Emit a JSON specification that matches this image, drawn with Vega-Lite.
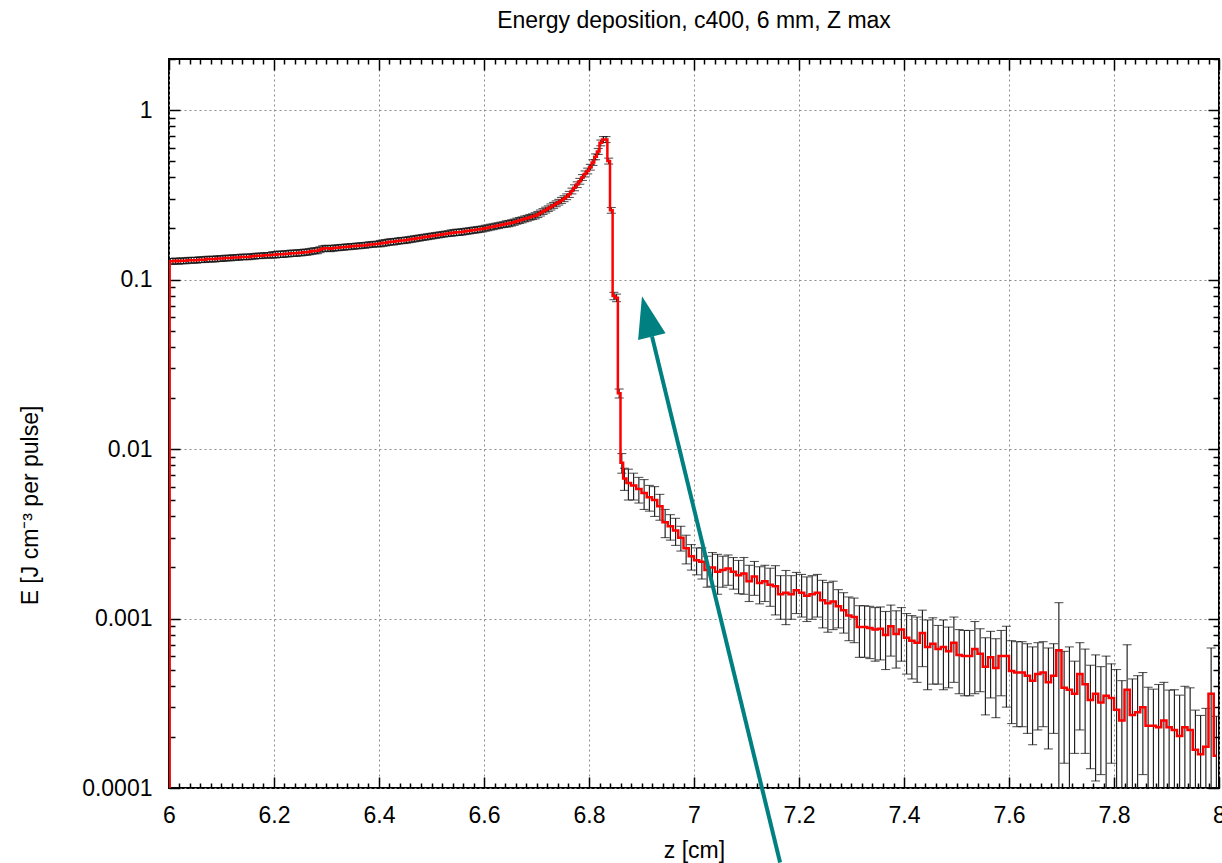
{
  "$schema": "https://vega.github.io/schema/vega-lite/v6.json",
  "width": 1050,
  "height": 729,
  "autosize": "none",
  "padding": {"left": 169, "top": 59, "right": 3, "bottom": 75},
  "background": "white",
  "title": {"text": "Energy deposition, c400, 6 mm, Z max", "font": "Liberation Sans", "fontSize": 23, "fontWeight": "normal", "color": "black", "anchor": "middle", "frame": "group", "baseline": "alphabetic", "offset": 11, "dy": 14},
  "config": {"view": {"stroke": "black", "strokeWidth": 2}},
  "datasets": {
    "hist": [
      {"z":6.0,"v":0.00001,"e":0},
      {"z":6.0025,"v":0.128,"e":0.005},{"z":6.0075,"v":0.128,"e":0.005},{"z":6.0125,"v":0.129,"e":0.005},{"z":6.0175,"v":0.128,"e":0.005},{"z":6.0225,"v":0.129,"e":0.005},{"z":6.0275,"v":0.129,"e":0.005},{"z":6.0325,"v":0.129,"e":0.005},{"z":6.0375,"v":0.130,"e":0.005},{"z":6.0425,"v":0.130,"e":0.005},{"z":6.0475,"v":0.130,"e":0.005},
      {"z":6.0525,"v":0.130,"e":0.005},{"z":6.0575,"v":0.131,"e":0.005},{"z":6.0625,"v":0.131,"e":0.005},{"z":6.0675,"v":0.131,"e":0.005},{"z":6.0725,"v":0.132,"e":0.005},{"z":6.0775,"v":0.132,"e":0.005},{"z":6.0825,"v":0.132,"e":0.005},{"z":6.0875,"v":0.132,"e":0.005},{"z":6.0925,"v":0.133,"e":0.005},{"z":6.0975,"v":0.133,"e":0.005},
      {"z":6.1025,"v":0.133,"e":0.005},{"z":6.1075,"v":0.134,"e":0.005},{"z":6.1125,"v":0.134,"e":0.005},{"z":6.1175,"v":0.134,"e":0.005},{"z":6.1225,"v":0.135,"e":0.005},{"z":6.1275,"v":0.135,"e":0.005},{"z":6.1325,"v":0.135,"e":0.005},{"z":6.1375,"v":0.136,"e":0.005},{"z":6.1425,"v":0.136,"e":0.005},{"z":6.1475,"v":0.136,"e":0.005},
      {"z":6.1525,"v":0.136,"e":0.005},{"z":6.1575,"v":0.137,"e":0.005},{"z":6.1625,"v":0.137,"e":0.005},{"z":6.1675,"v":0.138,"e":0.005},{"z":6.1725,"v":0.138,"e":0.005},{"z":6.1775,"v":0.138,"e":0.005},{"z":6.1825,"v":0.139,"e":0.005},{"z":6.1875,"v":0.139,"e":0.005},{"z":6.1925,"v":0.139,"e":0.005},{"z":6.1975,"v":0.140,"e":0.006},
      {"z":6.2025,"v":0.140,"e":0.006},{"z":6.2075,"v":0.141,"e":0.006},{"z":6.2125,"v":0.141,"e":0.006},{"z":6.2175,"v":0.141,"e":0.006},{"z":6.2225,"v":0.142,"e":0.006},{"z":6.2275,"v":0.142,"e":0.006},{"z":6.2325,"v":0.143,"e":0.006},{"z":6.2375,"v":0.143,"e":0.006},{"z":6.2425,"v":0.143,"e":0.006},{"z":6.2475,"v":0.144,"e":0.006},
      {"z":6.2525,"v":0.144,"e":0.006},{"z":6.2575,"v":0.145,"e":0.006},{"z":6.2625,"v":0.145,"e":0.006},{"z":6.2675,"v":0.146,"e":0.006},{"z":6.2725,"v":0.147,"e":0.006},{"z":6.2775,"v":0.148,"e":0.006},{"z":6.2825,"v":0.148,"e":0.006},{"z":6.2875,"v":0.150,"e":0.006},{"z":6.2925,"v":0.152,"e":0.006},{"z":6.2975,"v":0.153,"e":0.006},
      {"z":6.3025,"v":0.153,"e":0.006},{"z":6.3075,"v":0.152,"e":0.006},{"z":6.3125,"v":0.153,"e":0.006},{"z":6.3175,"v":0.154,"e":0.006},{"z":6.3225,"v":0.154,"e":0.006},{"z":6.3275,"v":0.155,"e":0.006},{"z":6.3325,"v":0.155,"e":0.006},{"z":6.3375,"v":0.156,"e":0.006},{"z":6.3425,"v":0.156,"e":0.006},{"z":6.3475,"v":0.157,"e":0.006},
      {"z":6.3525,"v":0.157,"e":0.006},{"z":6.3575,"v":0.158,"e":0.006},{"z":6.3625,"v":0.158,"e":0.006},{"z":6.3675,"v":0.159,"e":0.006},{"z":6.3725,"v":0.159,"e":0.006},{"z":6.3775,"v":0.160,"e":0.006},{"z":6.3825,"v":0.161,"e":0.006},{"z":6.3875,"v":0.161,"e":0.006},{"z":6.3925,"v":0.162,"e":0.006},{"z":6.3975,"v":0.162,"e":0.006},
      {"z":6.4025,"v":0.163,"e":0.007},{"z":6.4075,"v":0.164,"e":0.007},{"z":6.4125,"v":0.165,"e":0.007},{"z":6.4175,"v":0.166,"e":0.007},{"z":6.4225,"v":0.167,"e":0.007},{"z":6.4275,"v":0.167,"e":0.007},{"z":6.4325,"v":0.168,"e":0.007},{"z":6.4375,"v":0.169,"e":0.007},{"z":6.4425,"v":0.170,"e":0.007},{"z":6.4475,"v":0.170,"e":0.007},
      {"z":6.4525,"v":0.171,"e":0.007},{"z":6.4575,"v":0.172,"e":0.007},{"z":6.4625,"v":0.173,"e":0.007},{"z":6.4675,"v":0.174,"e":0.007},{"z":6.4725,"v":0.175,"e":0.007},{"z":6.4775,"v":0.176,"e":0.007},{"z":6.4825,"v":0.177,"e":0.007},{"z":6.4875,"v":0.178,"e":0.007},{"z":6.4925,"v":0.179,"e":0.007},{"z":6.4975,"v":0.180,"e":0.007},
      {"z":6.5025,"v":0.181,"e":0.007},{"z":6.5075,"v":0.182,"e":0.007},{"z":6.5125,"v":0.183,"e":0.007},{"z":6.5175,"v":0.184,"e":0.007},{"z":6.5225,"v":0.185,"e":0.007},{"z":6.5275,"v":0.186,"e":0.007},{"z":6.5325,"v":0.187,"e":0.007},{"z":6.5375,"v":0.188,"e":0.008},{"z":6.5425,"v":0.189,"e":0.008},{"z":6.5475,"v":0.190,"e":0.008},
      {"z":6.5525,"v":0.190,"e":0.008},{"z":6.5575,"v":0.191,"e":0.008},{"z":6.5625,"v":0.192,"e":0.008},{"z":6.5675,"v":0.193,"e":0.008},{"z":6.5725,"v":0.194,"e":0.008},{"z":6.5775,"v":0.195,"e":0.008},{"z":6.5825,"v":0.196,"e":0.008},{"z":6.5875,"v":0.197,"e":0.008},{"z":6.5925,"v":0.198,"e":0.008},{"z":6.5975,"v":0.199,"e":0.008},
      {"z":6.6025,"v":0.201,"e":0.008},{"z":6.6075,"v":0.202,"e":0.008},{"z":6.6125,"v":0.204,"e":0.008},{"z":6.6175,"v":0.205,"e":0.008},{"z":6.6225,"v":0.207,"e":0.008},{"z":6.6275,"v":0.208,"e":0.008},{"z":6.6325,"v":0.210,"e":0.008},{"z":6.6375,"v":0.211,"e":0.008},{"z":6.6425,"v":0.213,"e":0.009},{"z":6.6475,"v":0.214,"e":0.009},
      {"z":6.6525,"v":0.216,"e":0.009},{"z":6.6575,"v":0.218,"e":0.009},{"z":6.6625,"v":0.221,"e":0.009},{"z":6.6675,"v":0.223,"e":0.009},{"z":6.6725,"v":0.225,"e":0.009},{"z":6.6775,"v":0.228,"e":0.009},{"z":6.6825,"v":0.230,"e":0.009},{"z":6.6875,"v":0.233,"e":0.009},{"z":6.6925,"v":0.235,"e":0.009},{"z":6.6975,"v":0.238,"e":0.010},
      {"z":6.7025,"v":0.242,"e":0.010},{"z":6.7075,"v":0.247,"e":0.010},{"z":6.7125,"v":0.252,"e":0.010},{"z":6.7175,"v":0.257,"e":0.010},{"z":6.7225,"v":0.262,"e":0.010},{"z":6.7275,"v":0.268,"e":0.011},{"z":6.7325,"v":0.274,"e":0.011},{"z":6.7375,"v":0.280,"e":0.011},{"z":6.7425,"v":0.286,"e":0.011},{"z":6.7475,"v":0.293,"e":0.012},
      {"z":6.7525,"v":0.300,"e":0.012},{"z":6.7575,"v":0.308,"e":0.012},{"z":6.7625,"v":0.318,"e":0.013},{"z":6.7675,"v":0.333,"e":0.013},{"z":6.7725,"v":0.348,"e":0.014},{"z":6.7775,"v":0.363,"e":0.014},{"z":6.7825,"v":0.380,"e":0.015},{"z":6.7875,"v":0.400,"e":0.016},{"z":6.7925,"v":0.420,"e":0.017},{"z":6.7975,"v":0.437,"e":0.017},
      {"z":6.8025,"v":0.460,"e":0.018},{"z":6.8075,"v":0.490,"e":0.019},{"z":6.8125,"v":0.530,"e":0.021},{"z":6.8175,"v":0.570,"e":0.023},{"z":6.8225,"v":0.640,"e":0.025},{"z":6.8275,"v":0.670,"e":0.027},{"z":6.8325,"v":0.670,"e":0.027},{"z":6.8375,"v":0.500,"e":0.020},{"z":6.8425,"v":0.256,"e":0.010},{"z":6.8475,"v":0.080,"e":0.004},
      {"z":6.8525,"v":0.078,"e":0.004},{"z":6.8575,"v":0.0213,"e":0.0013},{"z":6.8625,"v":0.0083,"e":0.0011},{"z":6.8675,"v":0.0067,"e":0.0010},
      {"z":6.875,"v":0.0063,"e":0.0013},{"z":6.885,"v":0.0061,"e":0.0011},{"z":6.895,"v":0.0058,"e":0.0010},{"z":6.905,"v":0.0055,"e":0.0011},{"z":6.915,"v":0.0052,"e":0.0009},{"z":6.925,"v":0.0050,"e":0.0010},{"z":6.935,"v":0.0046,"e":0.0008},{"z":6.945,"v":0.0037,"e":0.0007},{"z":6.955,"v":0.0035,"e":0.0006},{"z":6.965,"v":0.0033,"e":0.0006},
      {"z":6.975,"v":0.0030,"e":0.0005},{"z":6.985,"v":0.0026,"e":0.0005},{"z":6.995,"v":0.00233,"e":0.0004},{"z":7.005,"v":0.00221,"e":0.0004},{"z":7.015,"v":0.00216,"e":0.00045},{"z":7.025,"v":0.00193,"e":0.0004},{"z":7.035,"v":0.0020,"e":0.00045},{"z":7.045,"v":0.00189,"e":0.0005},{"z":7.055,"v":0.00193,"e":0.0004},{"z":7.065,"v":0.00197,"e":0.0004},
      {"z":7.075,"v":0.00189,"e":0.0004},{"z":7.085,"v":0.0018,"e":0.0004},{"z":7.095,"v":0.00184,"e":0.00045},{"z":7.105,"v":0.00166,"e":0.0004},{"z":7.115,"v":0.00177,"e":0.0004},{"z":7.125,"v":0.00162,"e":0.0004},{"z":7.135,"v":0.00166,"e":0.0004},{"z":7.145,"v":0.00158,"e":0.0004},{"z":7.155,"v":0.00155,"e":0.0005},{"z":7.165,"v":0.00139,"e":0.0004},
      {"z":7.175,"v":0.00142,"e":0.0005},{"z":7.185,"v":0.00139,"e":0.0004},{"z":7.195,"v":0.00147,"e":0.0004},{"z":7.205,"v":0.00142,"e":0.0004},{"z":7.215,"v":0.00136,"e":0.0004},{"z":7.225,"v":0.00139,"e":0.0004},{"z":7.235,"v":0.00142,"e":0.0004},{"z":7.245,"v":0.00128,"e":0.0004},{"z":7.255,"v":0.00123,"e":0.0004},{"z":7.265,"v":0.00126,"e":0.0004},
      {"z":7.275,"v":0.00118,"e":0.0003},{"z":7.285,"v":0.00112,"e":0.0003},{"z":7.295,"v":0.00104,"e":0.0003},{"z":7.305,"v":0.00102,"e":0.0003},{"z":7.315,"v":0.00089,"e":0.0003},{"z":7.325,"v":0.00089,"e":0.0003},{"z":7.335,"v":0.00088,"e":0.0003},{"z":7.345,"v":0.00086,"e":0.0003},{"z":7.355,"v":0.00087,"e":0.0003},{"z":7.365,"v":0.0008,"e":0.0003},
      {"z":7.375,"v":0.0009,"e":0.0003},{"z":7.385,"v":0.00081,"e":0.0003},{"z":7.395,"v":0.00086,"e":0.0003},{"z":7.405,"v":0.00077,"e":0.0003},{"z":7.415,"v":0.00074,"e":0.0003},{"z":7.425,"v":0.00072,"e":0.0003},{"z":7.435,"v":0.00082,"e":0.0003},{"z":7.445,"v":0.00068,"e":0.0003},{"z":7.455,"v":0.00071,"e":0.0003},{"z":7.465,"v":0.00066,"e":0.00025},
      {"z":7.475,"v":0.00068,"e":0.0003},{"z":7.485,"v":0.00064,"e":0.00025},{"z":7.495,"v":0.00072,"e":0.0003},{"z":7.505,"v":0.00061,"e":0.00025},{"z":7.515,"v":0.0006,"e":0.00025},{"z":7.525,"v":0.0006,"e":0.00025},{"z":7.535,"v":0.00066,"e":0.0003},{"z":7.545,"v":0.00062,"e":0.00025},{"z":7.555,"v":0.00052,"e":0.00025},{"z":7.565,"v":0.00059,"e":0.00025},
      {"z":7.575,"v":0.00051,"e":0.00025},{"z":7.585,"v":0.0006,"e":0.00025},{"z":7.595,"v":0.0006,"e":0.0003},{"z":7.605,"v":0.00049,"e":0.00025},{"z":7.615,"v":0.00048,"e":0.00025},{"z":7.625,"v":0.00048,"e":0.00025},{"z":7.635,"v":0.00046,"e":0.00025},{"z":7.645,"v":0.00043,"e":0.00025},{"z":7.655,"v":0.00047,"e":0.00025},{"z":7.665,"v":0.00048,"e":0.00025},
      {"z":7.675,"v":0.00042,"e":0.00025},{"z":7.685,"v":0.00046,"e":0.00025},{"z":7.695,"v":0.00065,"e":0.00059},{"z":7.705,"v":0.00039,"e":0.00025},{"z":7.715,"v":0.00038,"e":0.0003},{"z":7.725,"v":0.00036,"e":0.0002},{"z":7.735,"v":0.00047,"e":0.00025},{"z":7.745,"v":0.00041,"e":0.00025},{"z":7.755,"v":0.00033,"e":0.0002},{"z":7.765,"v":0.00036,"e":0.00025},
      {"z":7.775,"v":0.00032,"e":0.0002},{"z":7.785,"v":0.00035,"e":0.00025},{"z":7.795,"v":0.00034,"e":0.0002},{"z":7.805,"v":0.00029,"e":0.00021},{"z":7.815,"v":0.00025,"e":0.00018},{"z":7.825,"v":0.00038,"e":0.00032},{"z":7.835,"v":0.00027,"e":0.00017},{"z":7.845,"v":0.00028,"e":0.00018},{"z":7.855,"v":0.0003,"e":0.00018},{"z":7.865,"v":0.000233,"e":0.00016},
      {"z":7.875,"v":0.000233,"e":0.00015},{"z":7.885,"v":0.000228,"e":0.00018},{"z":7.895,"v":0.00025,"e":0.00017},{"z":7.905,"v":0.000228,"e":0.00015},{"z":7.915,"v":0.00022,"e":0.00016},{"z":7.925,"v":0.000203,"e":0.00015},{"z":7.935,"v":0.000228,"e":0.00017},{"z":7.945,"v":0.00022,"e":0.00017},{"z":7.955,"v":0.000168,"e":0.00012},{"z":7.965,"v":0.000158,"e":0.00011},
      {"z":7.975,"v":0.000175,"e":0.00012},{"z":7.985,"v":0.00036,"e":0.00031},{"z":7.995,"v":0.000155,"e":0.00011}
    ],
    "arrowShaft": [{"z":7.164,"v":0.0000363},{"z":6.92,"v":0.04618}],
    "arrowHead": [{"z":6.9103,"v":0.06057}]
  },
  "layer": [
    {
      "data": {"name": "hist"},
      "mark": {"type": "errorbar", "ticks": true, "size": 9, "thickness": 1.1, "color": "#111111", "clip": true},
      "encoding": {
        "x": {"field": "z", "type": "quantitative",
          "scale": {"domain": [6, 8], "nice": false, "zero": false},
          "axis": {
            "orient": "bottom",
            "values": [6,6.02,6.04,6.06,6.08,6.1,6.12,6.14,6.16,6.18,6.2,6.22,6.24,6.26,6.28,6.3,6.32,6.34,6.36,6.38,6.4,6.42,6.44,6.46,6.48,6.5,6.52,6.54,6.56,6.58,6.6,6.62,6.64,6.66,6.68,6.7,6.72,6.74,6.76,6.78,6.8,6.82,6.84,6.86,6.88,6.9,6.92,6.94,6.96,6.98,7,7.02,7.04,7.06,7.08,7.1,7.12,7.14,7.16,7.18,7.2,7.22,7.24,7.26,7.28,7.3,7.32,7.34,7.36,7.38,7.4,7.42,7.44,7.46,7.48,7.5,7.52,7.54,7.56,7.58,7.6,7.62,7.64,7.66,7.68,7.7,7.72,7.74,7.76,7.78,7.8,7.82,7.84,7.86,7.88,7.9,7.92,7.94,7.96,7.98,8],
            "domain": false,
            "grid": true, "gridColor": "#8c8c8c", "gridDash": [2, 3], "gridWidth": 1,
            "gridOpacity": {"condition": {"test": "abs(datum.value*5-round(datum.value*5))<0.001", "value": 1}, "value": 0},
            "tickColor": "black", "tickWidth": 1.5,
            "tickSize": {"condition": {"test": "abs(datum.value*5-round(datum.value*5))<0.001", "value": -11}, "value": -5},
            "labelExpr": "abs(datum.value*5-round(datum.value*5))<0.001 ? format(datum.value,'~g') : ''",
            "labelFont": "Liberation Sans", "labelFontSize": 23, "labelColor": "black", "labelPadding": 27,
            "labelOverlap": false, "labelFlush": false, "labelBound": false,
            "title": "z [cm]", "titleFont": "Liberation Sans", "titleFontSize": 23, "titleFontWeight": "normal", "titleColor": "black",
            "titleBaseline": "alphabetic", "titleY": 69
          }
        },
        "y": {"field": "v", "type": "quantitative",
          "scale": {"type": "log", "domain": [0.0001, 2], "nice": false},
          "axis": {
            "orient": "left",
            "values": [0.0001,0.0002,0.0003,0.0004,0.0005,0.0006,0.0007,0.0008,0.0009,0.001,0.002,0.003,0.004,0.005,0.006,0.007,0.008,0.009,0.01,0.02,0.03,0.04,0.05,0.06,0.07,0.08,0.09,0.1,0.2,0.3,0.4,0.5,0.6,0.7,0.8,0.9,1,2],
            "domain": false,
            "grid": true, "gridColor": "#8c8c8c", "gridDash": [2, 3], "gridWidth": 1,
            "gridOpacity": {"condition": {"test": "abs(log(datum.value)/LN10-round(log(datum.value)/LN10))<0.001", "value": 1}, "value": 0},
            "tickColor": "black", "tickWidth": 1.5,
            "tickSize": {"condition": {"test": "abs(log(datum.value)/LN10-round(log(datum.value)/LN10))<0.001", "value": -11}, "value": -6},
            "labelExpr": "abs(log(datum.value)/LN10-round(log(datum.value)/LN10))<0.001 ? format(datum.value,'~g') : ''",
            "labelFont": "Liberation Sans", "labelFontSize": 23, "labelColor": "black", "labelPadding": 28,
            "labelOverlap": false, "labelFlush": false, "labelBound": false,
            "title": "E [J cm⁻³ per pulse]", "titleFont": "Liberation Sans", "titleFontSize": 23, "titleFontWeight": "normal", "titleColor": "black",
            "titleAngle": -90, "titleBaseline": "middle", "titleAlign": "center", "titleX": -139, "titleY": 446
          }
        },
        "yError": {"field": "e"}
      }
    },
    {
      "data": {"name": "hist"},
      "mark": {"type": "line", "interpolate": "step", "color": "#ff0000", "strokeWidth": 2.5, "clip": true},
      "encoding": {
        "x": {"field": "z", "type": "quantitative",
          "axis": {
            "orient": "top",
            "values": [6,6.02,6.04,6.06,6.08,6.1,6.12,6.14,6.16,6.18,6.2,6.22,6.24,6.26,6.28,6.3,6.32,6.34,6.36,6.38,6.4,6.42,6.44,6.46,6.48,6.5,6.52,6.54,6.56,6.58,6.6,6.62,6.64,6.66,6.68,6.7,6.72,6.74,6.76,6.78,6.8,6.82,6.84,6.86,6.88,6.9,6.92,6.94,6.96,6.98,7,7.02,7.04,7.06,7.08,7.1,7.12,7.14,7.16,7.18,7.2,7.22,7.24,7.26,7.28,7.3,7.32,7.34,7.36,7.38,7.4,7.42,7.44,7.46,7.48,7.5,7.52,7.54,7.56,7.58,7.6,7.62,7.64,7.66,7.68,7.7,7.72,7.74,7.76,7.78,7.8,7.82,7.84,7.86,7.88,7.9,7.92,7.94,7.96,7.98,8],
            "domain": false, "grid": false, "labels": false, "title": null,
            "tickColor": "black", "tickWidth": 1.5,
            "tickSize": {"condition": {"test": "abs(datum.value*5-round(datum.value*5))<0.001", "value": -11}, "value": -5}
          }
        },
        "y": {"field": "v", "type": "quantitative",
          "axis": {
            "orient": "right",
            "values": [0.0001,0.0002,0.0003,0.0004,0.0005,0.0006,0.0007,0.0008,0.0009,0.001,0.002,0.003,0.004,0.005,0.006,0.007,0.008,0.009,0.01,0.02,0.03,0.04,0.05,0.06,0.07,0.08,0.09,0.1,0.2,0.3,0.4,0.5,0.6,0.7,0.8,0.9,1,2],
            "domain": false, "grid": false, "labels": false, "title": null,
            "tickColor": "black", "tickWidth": 1.5,
            "tickSize": {"condition": {"test": "abs(log(datum.value)/LN10-round(log(datum.value)/LN10))<0.001", "value": -11}, "value": -6}
          }
        }
      }
    },
    {
      "data": {"name": "arrowShaft"},
      "mark": {"type": "line", "color": "#008080", "strokeWidth": 4, "clip": false},
      "encoding": {
        "x": {"field": "z", "type": "quantitative", "axis": null},
        "y": {"field": "v", "type": "quantitative", "axis": null}
      }
    },
    {
      "data": {"name": "arrowHead"},
      "mark": {"type": "point", "shape": "M0,-1L-0.68,1L0.68,1Z", "size": 1731, "filled": true, "color": "#008080", "opacity": 1, "angle": -13.7, "strokeWidth": 0, "clip": false},
      "encoding": {
        "x": {"field": "z", "type": "quantitative", "axis": null},
        "y": {"field": "v", "type": "quantitative", "axis": null}
      }
    }
  ],
  "resolve": {"axis": {"x": "independent", "y": "independent"}}
}
